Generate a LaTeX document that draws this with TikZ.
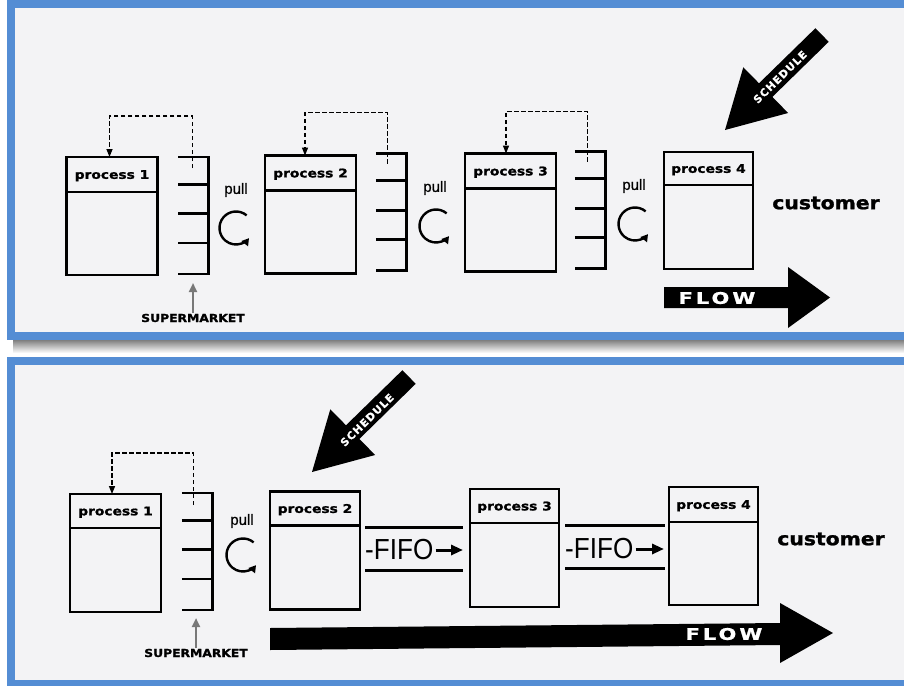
\documentclass[tikz,border=0pt]{standalone}
\usepackage{fontspec}
\usepackage{graphicx}
\setmainfont{Liberation Sans}
\newfontfamily\pullfont{Liberation Sans}[FakeBold=0.8]
\newfontfamily\heavyfont{DejaVu Sans}[FakeBold=1.2]
\newfontfamily\flowfont{DejaVu Sans}[LetterSpace=15,FakeBold=1.2]
\newfontfamily\schedfont{DejaVu Sans}[LetterSpace=10,FakeBold=1]
\usetikzlibrary{arrows.meta,calc}
\definecolor{panelblue}{RGB}{84,141,212}
\definecolor{paper}{RGB}{243,243,245}
\definecolor{marketgray}{RGB}{120,120,120}
\newcommand\stretchx[2]{\scalebox{#1}[1]{#2}}
\tikzset{
  panel/.style={draw=panelblue, line width=8pt},
  boxline/.style={line width=2.7pt},
  procbox/.style={draw, line width=2.7pt, minimum width=91pt, minimum height=118pt, inner sep=0pt, outer sep=0pt},
  market/.style={minimum width=30.5pt, minimum height=117pt, inner sep=0pt, outer sep=0pt},
  proclabel/.style={font=\heavyfont\bfseries\fontsize{12}{12}\selectfont, inner sep=0pt},
  kanban/.style={line width=1.4pt, dash pattern=on 4.5pt off 2.5pt, -{Triangle[length=8pt,width=6pt]}},
  pulltext/.style={font=\pullfont\fontsize{15}{15}\selectfont, inner sep=0pt},
  pullarrow/.style={line width=2.4pt, -{Triangle[length=7pt,width=8pt]}},
  smtext/.style={font=\heavyfont\bfseries\fontsize{11}{11}\selectfont, inner sep=0pt},
  grayarr/.style={draw=marketgray, line width=2.2pt, -{Triangle[length=9pt,width=8pt]}, marketgray},
  custtext/.style={font=\heavyfont\bfseries\fontsize{18}{18}\selectfont, inner sep=0pt},
  flowtext/.style={font=\flowfont\bfseries\fontsize{16}{16}\selectfont, text=white, inner sep=0pt},
  schedtext/.style={font=\schedfont\bfseries\fontsize{10.5}{10.5}\selectfont, text=white, inner sep=0pt},
  fifotext/.style={font=\fontsize{29}{29}\selectfont, inner sep=0pt},
  fifoarrow/.style={line width=3pt, -{Triangle[length=12pt,width=10pt]}},
  lane/.style={line width=3pt},
}
\begin{document}
\begin{tikzpicture}[x=1pt,y=-1pt]
\useasboundingbox (0,0) rectangle (904,685);
\clip (0,0) rectangle (904,685);
\fill[white] (0,0) rectangle (904,685);
% panels
\fill[paper] (11,4) rectangle (912,336);
\shade[top color=black!50, bottom color=white] (13,340) rectangle (904,353);
\draw[panel] (11,4) rectangle (916,336);
\fill[paper] (11,361) rectangle (912,684);
\draw[panel] (11,361) rectangle (916,684);

% ---------- top panel ----------
\node[procbox] (p1) at (112,216) {};
\node[procbox] (p2) at (310.5,214.5) {};
\node[procbox] (p3) at (510.5,212.5) {};
\node[procbox, minimum width=89pt, minimum height=117pt] (p4) at (708.5,210.5) {};
% ---------- bottom panel ----------
\node[procbox] (q1) at (115.5,553) {};
\node[procbox, minimum width=90pt] (q2) at (315,550.5) {};
\node[procbox, minimum width=89pt] (q3) at (514.5,548) {};
\node[procbox, minimum width=89pt] (q4) at (713.5,546) {};

\foreach \n/\h/\t in {p1/35/1,p2/35/2,p3/35/3,p4/33/4,q1/34/1,q2/34/2,q3/34/3,q4/35/4} {
  \draw[boxline] ([yshift=-\h pt]\n.north west) -- ([yshift=-\h pt]\n.north east);
  \node[proclabel] (\n-lab) at ([yshift={-\h*0.5pt-1.2pt}]\n.north) {\stretchx{1.15}{process \t}};
}

% supermarkets
\node[market] (m1) at (193.5,215.5) {};
\node[market] (m2) at (391,212) {};
\node[market] (m3) at (590,210) {};
\node[market] (mb) at (197,551.5) {};
\foreach \m in {m1,m2,m3,mb} {
  \draw[boxline] (\m.north west) -- (\m.north east) -- (\m.south east) -- (\m.south west);
  \foreach \f in {0.233,0.485,0.735}
    \draw[boxline] ($(\m.north west)!\f!(\m.south west)$) -- ($(\m.north east)!\f!(\m.south east)$);
}

% kanban loops
\coordinate (k1) at ($(p1.north)+(-2.5,-41)$);
\draw[kanban] ([xshift=14pt,yshift=-11pt]m1.north west) |- (k1) -- (k1 |- p1.north);
\coordinate (k2) at ($(p2.north)+(-5.5,-43)$);
\draw[kanban] ([xshift=12pt,yshift=-10pt]m2.north west) |- (k2) -- (k2 |- p2.north);
\coordinate (k3) at ($(p3.north)+(-4.5,-42)$);
\draw[kanban] ([xshift=13pt,yshift=-10pt]m3.north west) |- (k3) -- (k3 |- p3.north);
\coordinate (kb) at ($(q1.north)+(-3.5,-41)$);
\draw[kanban] ([xshift=12pt,yshift=-12pt]mb.north west) |- (kb) -- (kb |- q1.north);

% pull
\node[pulltext] (pull1) at (236,190) {pull};
\node[pulltext] (pull2) at (435,188) {pull};
\node[pulltext] (pull3) at (634,186) {pull};
\node[pulltext] (pullb) at (242,521) {pull};
\coordinate (c1) at (236,228);
\coordinate (c2) at (436,226);
\coordinate (c3) at (635,224);
\coordinate (cb) at (243,555);
\foreach \c in {c1,c2,c3,cb}
  \draw[pullarrow] (\c) ++(-50:16.5) arc[start angle=-50,end angle=-322,radius=16.5];

% supermarket labels
\node[smtext] (s1) at (193,318) {\stretchx{1.12}{SUPERMARKET}};
\draw[grayarr] ([yshift=1pt]s1.north) -- ([yshift=-9pt]s1.north |- m1.south);
\node[smtext] (s2) at (196,653) {\stretchx{1.12}{SUPERMARKET}};
\draw[grayarr] ([yshift=1pt]s2.north) -- ([yshift=-8pt]s2.north |- mb.south);

% customer
\node[custtext] (cu1) at (826,203) {\stretchx{1.13}{customer}};
\node[custtext] (cu2) at (831,539) {\stretchx{1.13}{customer}};

% FIFO lanes
\draw[lane] (365,527) -- (463,527);
\draw[lane] (365,570) -- (463,570);
\draw[lane] (565,525) -- (665,525);
\draw[lane] (565,568) -- (665,568);
\node[fifotext, anchor=base west] (f1) at (365,559) {\stretchx{0.9}{-FIFO}};
\coordinate (fa1) at (463,550);
\draw[fifoarrow] ($(f1.east |- fa1)+(2,0)$) -- (fa1);
\node[fifotext, anchor=base west] (f2) at (565,558) {\stretchx{0.9}{-FIFO}};
\coordinate (fa2) at (664,549);
\draw[fifoarrow] ($(f2.east |- fa2)+(2,0)$) -- (fa2);

% FLOW arrows
\fill[black] (664,287) -- (788,287) -- (788,267) -- (830,297.5) -- (788,328) -- (788,308) -- (664,308) -- cycle;
\node[flowtext] (fl1) at (717,298) {\stretchx{1.3}{FLOW}};
\fill[black] (270,628) -- (780,623) -- (780,603) -- (833,633) -- (780,663) -- (780,645) -- (270,650) -- cycle;
\node[flowtext] (fl2) at (724,634) {\stretchx{1.3}{FLOW}};

% SCHEDULE arrows
\fill[black] (828.7,41.8) -- (815.4,28.2) -- (759.0,83.3) -- (743.3,67.3) -- (725,130) -- (788.1,113.0) -- (772.4,96.9) -- cycle;
\node[schedtext, rotate=44.4] (sc1) at (780,77) {SCHEDULE};
\fill[black] (415.7,383.8) -- (402.4,370.2) -- (346.0,425.3) -- (330.3,409.3) -- (312,472) -- (375.1,455.0) -- (359.4,438.9) -- cycle;
\node[schedtext, rotate=44.4] (sc2) at (367,420) {SCHEDULE};
\end{tikzpicture}
\end{document}
